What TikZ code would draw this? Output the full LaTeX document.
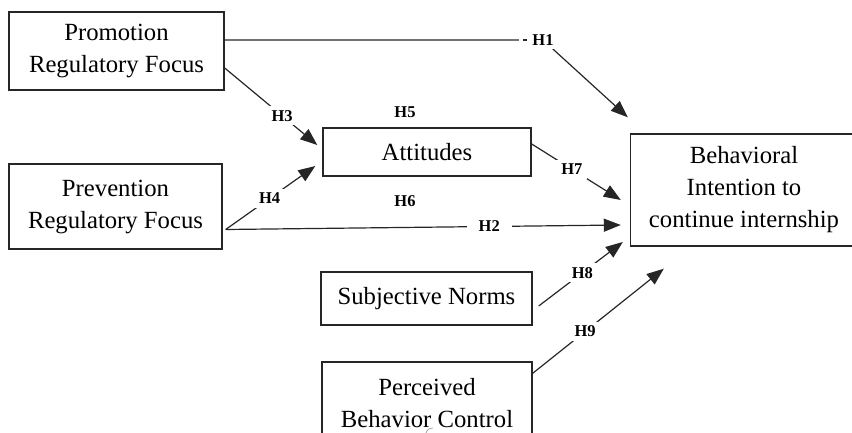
\documentclass[tikz,border=0pt]{standalone}
\usepackage{fontspec}
\setmainfont{Liberation Serif}
\usetikzlibrary{arrows.meta,calc}
\begin{document}
\begin{tikzpicture}[x=1pt,y=-1pt,
  box/.style={draw=black!85,line width=1.4pt,inner sep=0pt,align=center,
    font=\fontsize{24.7}{32}\selectfont},
  link/.style={draw=black!85,line width=1.2pt},
  arr/.style={link,-{Triangle[length=17pt,width=13pt]}},
  hyp/.style={font=\bfseries\fontsize{16.5}{16.5}\selectfont,inner sep=1.5pt},
  hypcut/.style={hyp,fill=white,inner xsep=5pt,inner ysep=4pt}]
\useasboundingbox (0,0) rectangle (852,433);

% constructs
\node[box,minimum width=215pt,minimum height=78pt] (prom) at (116.5,51) {Promotion\\Regulatory Focus};
\node[box,minimum width=213pt,minimum height=85pt] (prev) at (115.5,206.5) {Prevention\\Regulatory Focus};
\node[box,minimum width=208pt,minimum height=48pt] (att) at (427,152) {Attitudes};
\node[box,minimum width=227pt,minimum height=112pt] (beh) at (744,190) {Behavioral\\Intention to\\continue internship};
\node[box,minimum width=211pt,minimum height=53pt] (subj) at (426.5,298.5) {Subjective Norms};
\node[box,minimum width=210pt,minimum height=82pt] (perc) at (427,403) {Perceived\\Behavior Control};

% connector end points
\coordinate (s1) at ($(prom.east)+(0,-11)$);
\coordinate (s3) at ($(prom.east)+(0,17)$);
\coordinate (s4) at ($(prev.east)+(3,23)$);
\coordinate (s7) at ($(att.east)+(0,-8)$);
\coordinate (s8) at ($(subj.east)+(6,7.5)$);
\coordinate (s9) at ($(perc.north east)+(0,12)$);
\coordinate (t1) at ($(beh.north west)+(-2,-16)$);
\coordinate (t3) at ($(att.west)+(-5,-7)$);
\coordinate (t4) at ($(att.west)+(-7,14)$);
\coordinate (t2) at ($(beh.west)+(-9,35)$);
\coordinate (t7) at ($(beh.west)+(-9,10)$);
\coordinate (t8) at ($(beh.west)+(-7,52)$);
\coordinate (t9) at ($(beh.south west)+(34,22)$);
\coordinate (c1) at (543,40);

% hypotheses
\draw[arr] (s1) -- (c1) -- (t1);
\node[hypcut,inner xsep=13pt] (h1) at (c1) {H1};
\draw[link] ($(h1.west)+(4,0)$) -- ($(h1.west)+(8,0)$);
\draw[arr] (s3) -- node[hypcut,pos=0.62] (h3) {H3} (t3);
\draw[arr] (s4) -- node[hypcut,pos=0.49] (h4) {H4} (t4);
\draw[arr] (s4) -- node[hypcut,pos=0.667,inner xsep=12pt] (h2) {H2} (t2);
\draw[arr] (s7) -- node[hypcut,pos=0.45] (h7) {H7} (t7);
\draw[arr] (s8) -- node[hypcut,pos=0.52] (h8) {H8} (t8);
\draw[arr] (s9) -- node[hypcut,pos=0.4] (h9) {H9} (t9);
\node[hyp] (h5) at (405,112) {H5};
\node[hyp] (h6) at (405,201) {H6};

% stray stroke under the last box
\draw[black!35,line width=0.8pt] (433,428) .. controls (428,429) .. (426,433);
\end{tikzpicture}
\end{document}
